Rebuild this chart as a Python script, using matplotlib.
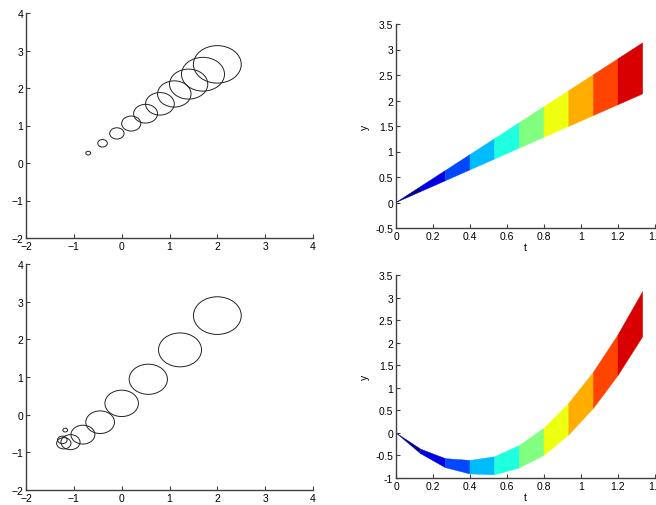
import numpy as np
import matplotlib.pyplot as plt
from matplotlib.patches import Circle

plt.rcParams['font.family'] = ['Liberation Sans', 'DejaVu Sans']
plt.rcParams['font.size'] = 7.5

# time samples and radii (k = 0..10)
t = [0.0, 0.1333, 0.2667, 0.4, 0.5333, 0.6667, 0.8, 0.9333, 1.0667, 1.2, 1.3333]
r = [0.0, 0.05, 0.10, 0.15, 0.20, 0.25, 0.30, 0.35, 0.40, 0.45, 0.50]

# top row: centres
x_top = [-1.0, -0.7, -0.4, -0.1, 0.2, 0.5, 0.8, 1.1, 1.4, 1.7, 2.0]
y_top = [0.0, 0.263, 0.526, 0.789, 1.052, 1.315, 1.578, 1.841, 2.104, 2.367, 2.63]

# bottom row: centres
x_bot = [-1.0, -1.18, -1.24, -1.21, -1.07, -0.81, -0.45, 0.0, 0.557, 1.22, 2.0]
y_bot = [0.0, -0.41, -0.67, -0.76, -0.73, -0.53, -0.2, 0.3, 0.94, 1.72, 2.63]

seg_colors = ['#000090', '#0000e0', '#0048ff', '#00bcff', '#20ffdf',
              '#80ff80', '#efff10', '#ffae00', '#ff4400', '#d80000']

fig = plt.figure(figsize=(6.56, 5.06), dpi=100)

W, H = 656, 506
def px_axes(x0, y0, x1, y1):
    return fig.add_axes([x0 / W, 1 - y1 / H, (x1 - x0) / W, (y1 - y0) / H])

def matlab_style(ax):
    for s in ['top', 'right']:
        ax.spines[s].set_visible(False)
    for s in ['left', 'bottom']:
        ax.spines[s].set_color('#404040')
        ax.spines[s].set_linewidth(1.0)
    ax.tick_params(direction='in', length=3, width=0.8, color='#404040', pad=2, labelsize=7.5)

def circles(ax, xs, ys, rs):
    for xc, yc, rc in zip(xs[1:], ys[1:], rs[1:]):
        ax.add_patch(Circle((xc, yc), rc, fill=False, edgecolor='#222222', linewidth=0.7))
    ax.set_xlim(-2, 4)
    ax.set_ylim(-2, 4)
    ax.set_xticks(range(-2, 5))
    ax.set_yticks(range(-2, 5))
    matlab_style(ax)

def band(ax, ys, ylim, yticks):
    for i in range(len(t) - 1):
        tt = [t[i], t[i + 1], t[i + 1], t[i]]
        yy = [ys[i] + r[i], ys[i + 1] + r[i + 1], ys[i + 1] - r[i + 1], ys[i] - r[i]]
        ax.fill(tt, yy, facecolor=seg_colors[i], edgecolor=seg_colors[i], linewidth=0.3)
    ax.set_xlim(0, 1.4)
    ax.set_ylim(*ylim)
    ax.set_xticks([0, 0.2, 0.4, 0.6, 0.8, 1, 1.2, 1.4])
    ax.set_xticklabels(['0', '0.2', '0.4', '0.6', '0.8', '1', '1.2', '1.4'])
    ax.set_yticks(yticks)
    ax.set_yticklabels(['%g' % v for v in yticks])
    ax.set_xlabel('t', labelpad=1)
    ax.set_ylabel('y', labelpad=4)
    matlab_style(ax)

ax1 = px_axes(26, 14, 313, 239)
circles(ax1, x_top, y_top, r)

ax2 = px_axes(396, 25, 655, 229)
band(ax2, y_top, (-0.5, 3.5), [-0.5, 0, 0.5, 1, 1.5, 2, 2.5, 3, 3.5])

ax3 = px_axes(26, 265, 313, 491)
circles(ax3, x_bot, y_bot, r)

ax4 = px_axes(396, 276, 655, 479)
band(ax4, y_bot, (-1, 3.5), [-1, -0.5, 0, 0.5, 1, 1.5, 2, 2.5, 3, 3.5])

fig.savefig('out.png', dpi=100)
